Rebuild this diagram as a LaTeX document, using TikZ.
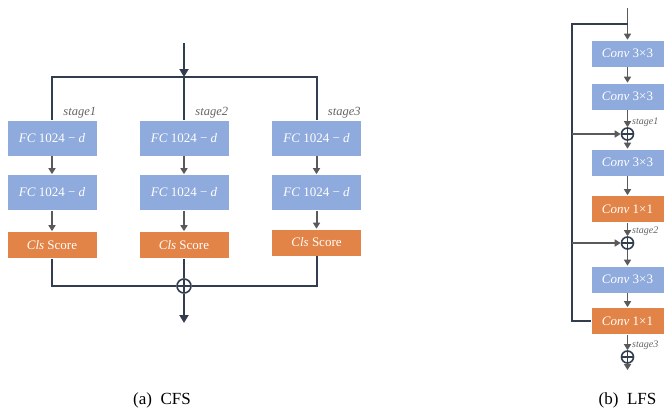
\documentclass[tikz,border=0pt]{standalone}
\usepackage{fontspec}
\setmainfont{Liberation Serif}
\usetikzlibrary{arrows.meta}
\definecolor{boxblue}{RGB}{143,170,220}
\definecolor{boxorange}{RGB}{226,131,71}
\definecolor{wirenavy}{RGB}{50,62,80}
\definecolor{arrowgray}{RGB}{90,90,90}
\definecolor{labelgray}{RGB}{100,100,100}
\tikzset{
	fcbox/.style={fill=boxblue, draw=white, line width=0.6pt, text=white, minimum width=90pt, minimum height=36pt, inner sep=0pt, font=\fontsize{13}{15}\selectfont},
	clsbox/.style={fcbox, fill=boxorange, minimum height=27pt},
	convbox/.style={fcbox, minimum width=73pt, minimum height=27pt, font=\fontsize{13}{15}\selectfont},
	onebox/.style={convbox, fill=boxorange},
	wire/.style={draw=wirenavy, line width=2pt},
	flow/.style={draw=arrowgray, line width=2pt, -{Triangle[length=6pt,width=7pt]}},
	sumnode/.style={circle, draw=wirenavy, line width=1.6pt, minimum size=14pt, inner sep=0pt,
		path picture={\draw[wirenavy, line width=1.6pt] (path picture bounding box.north) -- (path picture bounding box.south) (path picture bounding box.west) -- (path picture bounding box.east);}},
	stagelbl/.style={text=labelgray, font=\fontsize{12.5}{14}\selectfont\itshape, inner sep=1pt},
	caption/.style={font=\fontsize{17}{19}\selectfont}
}

\begin{document}
\begin{tikzpicture}[x=1pt,y=-1pt]
		\useasboundingbox (0,0) rectangle (666,410);
		%%%%% CFS %%%%%
		
		\coordinate (in) at (184,43);
		\coordinate (split) at (184,77);
		\coordinate (out) at (184,323);
		
		\node[fcbox] (fca1) at (52,138) {\textit{FC} 1024 − \textit{d}};
		\node[fcbox] (fcb1) at (52,192.5) {\textit{FC} 1024 − \textit{d}};
		\node[clsbox] (cls1) at (52,245) {\textit{Cls} Score};
		
		\node[fcbox] (fca2) at (184,138) {\textit{FC} 1024 − \textit{d}};
		\node[fcbox] (fcb2) at (184,192.5) {\textit{FC} 1024 − \textit{d}};
		\node[clsbox] (cls2) at (184,245) {\textit{Cls} Score};
		
		\node[fcbox] (fca3) at (316.5,138) {\textit{FC} 1024 − \textit{d}};
		\node[fcbox] (fcb3) at (316.5,192.5) {\textit{FC} 1024 − \textit{d}};
		\node[clsbox] (cls3) at (316.5,242.5) {\textit{Cls} Score};
		
		\node[stagelbl, anchor=south east] (st1) at (fca1.north east) {stage1};
		\node[stagelbl, anchor=south east] (st2) at (fca2.north east) {stage2};
		\node[stagelbl, anchor=south east] (st3) at (fca3.north east) {stage3};
		
		\draw[wire, -{Triangle[length=8pt,width=9pt]}] (in) -- (split);
		\draw[wire] (fca1.north) |- (split) -| (fca3.north);
		\draw[wire] (split) -- (fca2.north);
		
		\draw[flow] (fca1) -- (fcb1);
		\draw[flow] (fcb1) -- (cls1);
		\draw[flow] (fca2) -- (fcb2);
		\draw[flow] (fcb2) -- (cls2);
		\draw[flow] (fca3) -- (fcb3);
		\draw[flow] (fcb3) -- (cls3);
		
		\node[sumnode] (sum) at (184,286) {};
		\draw[wire] (cls1.south) |- (sum.west);
		\draw[wire] (cls2.south) -- (sum.north);
		\draw[wire] (cls3.south) |- (sum.east);
		\draw[wire, -{Triangle[length=8pt,width=9pt]}] (sum.south) -- (out);
		
		%%%%% LFS %%%%%
		
		\coordinate (lin) at (627.5,8);
		\coordinate (ltap) at (627.5,24);
		\coordinate (byp) at (572,24);
		\coordinate (lout) at (627.5,370);
		
		\node[convbox] (cv1) at (627.5,53.5) {\textit{Conv} 3×3};
		\node[convbox] (cv2) at (627.5,96.5) {\textit{Conv} 3×3};
		\node[sumnode, minimum size=12pt] (s1) at (627.5,134) {};
		\node[convbox] (cv3) at (627.5,162.5) {\textit{Conv} 3×3};
		\node[onebox] (cv4) at (627.5,209) {\textit{Conv} 1×1};
		\node[sumnode, minimum size=12pt] (s2) at (627.5,243) {};
		\node[convbox] (cv5) at (627.5,279.5) {\textit{Conv} 3×3};
		\node[onebox] (cv6) at (627.5,321) {\textit{Conv} 1×1};
		\node[sumnode, minimum size=12pt] (s3) at (627.5,357) {};
		
		\node[stagelbl, font=\fontsize{10}{11}\selectfont\itshape, anchor=west] (rst1) at (631,122) {stage1};
		\node[stagelbl, font=\fontsize{10}{11}\selectfont\itshape, anchor=west] (rst2) at (631,231) {stage2};
		\node[stagelbl, font=\fontsize{10}{11}\selectfont\itshape, anchor=west] (rst3) at (631,345) {stage3};
		
		\draw[flow, line width=1.6pt] (lin) -- (cv1);
		\draw[wire, line width=1.6pt] (ltap) -- (byp) |- (cv6.west);
		\draw[flow, line width=1.6pt] (cv1) -- (cv2);
		\draw[flow, line width=1.6pt] (cv2) -- (s1);
		\draw[flow, line width=1.6pt] (byp |- s1) -- (s1);
		\draw[flow, line width=1.6pt] (s1) -- (cv3);
		\draw[flow, line width=1.6pt] (cv3) -- (cv4);
		\draw[flow, line width=1.6pt] (cv4) -- (s2);
		\draw[flow, line width=1.6pt] (byp |- s2) -- (s2);
		\draw[flow, line width=1.6pt] (s2) -- (cv5);
		\draw[flow, line width=1.6pt] (cv5) -- (cv6);
		\draw[flow, line width=1.6pt] (cv6) -- (s3);
		\draw[flow, line width=1.6pt] (s3) -- (lout);
		
		\node[caption] (capa) at (162,400) {(a)\ \ CFS};
		\node[caption] (capb) at (627.5,400) {(b)\ \ LFS};
		
		%%%%% END %%%%%
\end{tikzpicture}
\end{document}
